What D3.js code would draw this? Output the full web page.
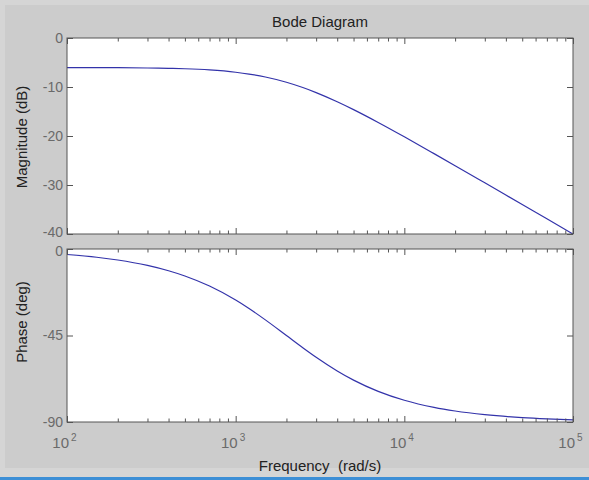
<!DOCTYPE html>
<html>
<head>
<meta charset="utf-8">
<script src="https://cdn.jsdelivr.net/npm/d3@7"></script>
<style>
  body { margin: 0; background: #cccccc; }
  text { font-family: "Liberation Sans", Arial, sans-serif; }
</style>
</head>
<body>
<svg id="chart" width="589" height="480"></svg>
<script>
// values (rad/s, dB, deg)
var freq = [100, 150, 200, 300, 400, 500, 700, 1000, 1200, 1500, 2000, 2500, 3000, 4000, 5000, 7000,
  10000, 15000, 20000, 30000, 50000, 70000, 100000]
var magDb = [-6.03, -6.05, -6.06, -6.12, -6.19, -6.28, -6.52, -6.99, -7.36, -7.96, -9.03, -10.11, -11.14,
  -13.01, -14.62, -17.24, -20.17, -23.6, -26.06, -29.56, -33.99, -36.9, -40.0]
var phaseDeg = [-2.86, -4.29, -5.71, -8.53, -11.31, -14.04, -19.29, -26.57, -30.96, -36.87, -45.0, -51.34,
  -56.31, -63.43, -68.2, -74.05, -78.69, -82.41, -84.29, -86.19, -87.71, -88.36, -88.85]

var magTicks = [0, -10, -20, -30, -40]
var phaseTicks = [0, -45, -90]
var decadeExp = [2, 3, 4, 5]

var svg = d3.select('#chart')

// window frame bits
svg.append('rect').attr('width', 589).attr('height', 480).attr('fill', '#d5d5d5')
svg.append('rect').attr('x', 5).attr('y', 5).attr('width', 584).attr('height', 463).attr('fill', '#cccccc')
svg.append('rect').attr('x', 0).attr('y', 477).attr('width', 589).attr('height', 3).attr('fill', '#3d8fd6')

var left = 67
var right = 573
var fs = 15
var tickFs = 14

var x = d3.scaleLog().domain([1e2, 1e5]).range([left, right])
var yMag = d3.scaleLinear().domain([-40, 0]).range([234, 38])
var yPh = d3.scaleLinear().domain([-90, 0]).range([422, 249])

var majors = decadeExp.map(function (e) { return Math.pow(10, e) })
var minors = x.ticks().filter(function (v) { return majors.indexOf(v) < 0 })

function panel (y, values, ticks, showX, nudge) {
  var top = y.range()[1]
  var bottom = y.range()[0]
  var g = svg.append('g')

  g.append('rect')
    .attr('x', left).attr('y', top)
    .attr('width', right - left).attr('height', bottom - top)
    .attr('fill', '#ffffff')

  var line = d3.line()
    .x(function (d, i) { return x(freq[i]) })
    .y(function (d) { return y(d) })
    .curve(d3.curveMonotoneX)

  g.append('path')
    .datum(values)
    .attr('d', line)
    .attr('fill', 'none')
    .attr('stroke', '#3333aa')
    .attr('stroke-width', 1.2)

  // ticks on all four sides, pointing inwards
  var axes = [
    [d3.axisBottom(x).tickValues(majors).tickSize(-6), 'translate(0,' + bottom + ')'],
    [d3.axisBottom(x).tickValues(minors).tickSize(-3.5), 'translate(0,' + bottom + ')'],
    [d3.axisTop(x).tickValues(majors).tickSize(-6), 'translate(0,' + top + ')'],
    [d3.axisTop(x).tickValues(minors).tickSize(-3.5), 'translate(0,' + top + ')'],
    [d3.axisRight(y).tickValues(ticks).tickSize(-6), 'translate(' + right + ',0)']
  ]
  axes.forEach(function (a) {
    var ax = g.append('g').attr('transform', a[1])
      .call(a[0].tickSizeOuter(0).tickFormat(''))
    ax.select('.domain').remove()
    ax.selectAll('line').attr('stroke', '#555555')
  })

  var yAx = g.append('g').attr('transform', 'translate(' + left + ',0)')
    .call(d3.axisLeft(y).tickValues(ticks).tickSize(-6).tickSizeOuter(0).tickPadding(4)
      .tickFormat(function (d) { return String(d) }))
  yAx.select('.domain').remove()
  yAx.selectAll('line').attr('stroke', '#555555')
  yAx.selectAll('text')
    .attr('font-size', tickFs)
    .attr('font-family', '"Liberation Sans", Arial, sans-serif')
    .attr('fill', '#6a6a6a')
  // the -40 and 0 labels sit right on top of each other between the panels
  yAx.selectAll('.tick text')
    .attr('y', function (d) { return nudge(d) })

  g.append('rect')
    .attr('x', left).attr('y', top)
    .attr('width', right - left).attr('height', bottom - top)
    .attr('fill', 'none')
    .attr('stroke', '#555555')
    .attr('stroke-width', 1)

  if (showX) {
    majors.forEach(function (v, i) {
      g.append('text')
        .attr('x', x(v) + 2).attr('y', 448)
        .attr('text-anchor', 'end')
        .attr('font-size', fs)
        .attr('fill', '#6a6a6a')
        .text('10')
      g.append('text')
        .attr('x', x(v) + 4).attr('y', 441)
        .attr('font-size', 10)
        .attr('fill', '#6a6a6a')
        .text(String(decadeExp[i]))
    })
  }
}

panel(yMag, magDb, magTicks, false, function (d) { return d === -40 ? -2 : 0 })
panel(yPh, phaseDeg, phaseTicks, true, function (d) { return d === 0 ? 2 : 0 })

svg.append('text')
  .attr('x', 320).attr('y', 27)
  .attr('text-anchor', 'middle')
  .attr('font-size', fs)
  .attr('fill', '#222222')
  .text('Bode Diagram')

svg.append('text')
  .attr('x', 320).attr('y', 471)
  .attr('text-anchor', 'middle')
  .attr('font-size', fs)
  .attr('fill', '#222222')
  .style('white-space', 'pre')
  .text('Frequency  (rad/s)')

svg.append('text')
  .attr('transform', 'translate(27,137) rotate(-90)')
  .attr('text-anchor', 'middle')
  .attr('font-size', fs)
  .attr('fill', '#222222')
  .text('Magnitude (dB)')

svg.append('text')
  .attr('transform', 'translate(27,322) rotate(-90)')
  .attr('text-anchor', 'middle')
  .attr('font-size', fs)
  .attr('fill', '#222222')
  .text('Phase (deg)')
</script>
</body>
</html>
